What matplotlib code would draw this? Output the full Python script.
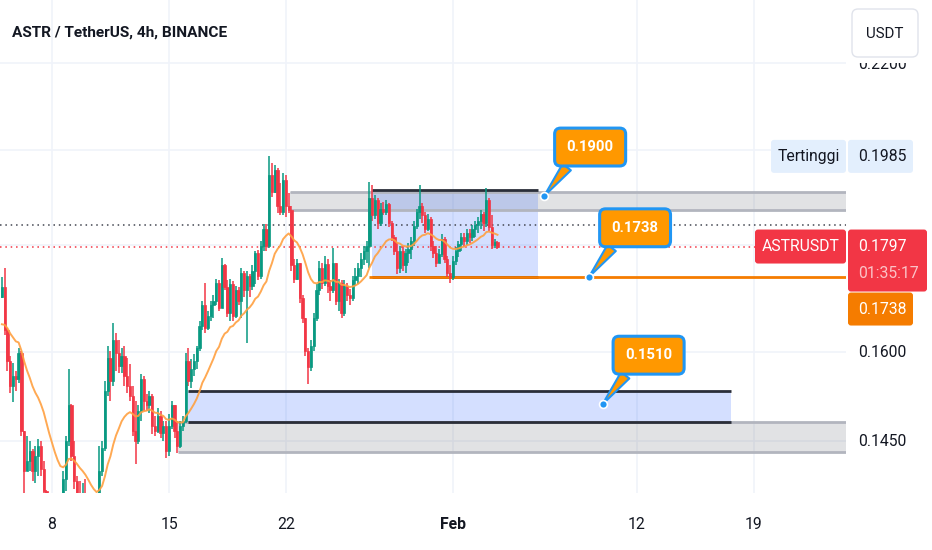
import numpy as np
import matplotlib
matplotlib.use('Agg')
import matplotlib.pyplot as plt
from matplotlib import font_manager as fm
from matplotlib.patches import Rectangle, FancyBboxPatch
from matplotlib.ticker import NullLocator

# ---- data (ASTR/USDT, 4h candles from Jan 5 00:00) ----
start_day = 5.0          # day of year of first candle (Jan 5)
bar_days = 1 / 6         # 4h
first_open = 0.1699
closes = [
    0.1718, 0.1638, 0.1584, 0.1541, 0.1558, 0.1553, 0.1598, 0.1466, 0.1403, 0.1418,
    0.1434, 0.1403, 0.1426, 0.1442, 0.1406, 0.1372, 0.1313, 0.1298, 0.1305, 0.1291,
    0.1301, 0.1320, 0.1390, 0.1450, 0.1508, 0.1426, 0.1387, 0.1365, 0.1350, 0.1357,
    0.1342, 0.1320, 0.1305, 0.1313, 0.1327, 0.1403, 0.1439, 0.1532, 0.1589, 0.1549,
    0.1620, 0.1598, 0.1575, 0.1593, 0.1558, 0.1541, 0.1524, 0.1466, 0.1450, 0.1499,
    0.1553, 0.1516, 0.1508, 0.1524, 0.1474, 0.1466, 0.1491, 0.1463, 0.1474, 0.1434,
    0.1474, 0.1508, 0.1466, 0.1442, 0.1474, 0.1482, 0.1584, 0.1549, 0.1570, 0.1584,
    0.1606, 0.1647, 0.1684, 0.1642, 0.1665, 0.1684, 0.1693, 0.1727, 0.1680, 0.1760,
    0.1718, 0.1669, 0.1725, 0.1665, 0.1712, 0.1693, 0.1746, 0.1712, 0.1740, 0.1721,
    0.1750, 0.1785, 0.1740, 0.1799, 0.1833, 0.1799, 0.1944, 0.1908, 0.1955, 0.1880,
    0.1866, 0.1933, 0.1880, 0.1870, 0.1760, 0.1734, 0.1765, 0.1697, 0.1660, 0.1602,
    0.1574, 0.1611, 0.1660, 0.1712, 0.1754, 0.1727, 0.1763, 0.1721, 0.1712, 0.1765,
    0.1693, 0.1727, 0.1670, 0.1721, 0.1703, 0.1697, 0.1731, 0.1740, 0.1754, 0.1773,
    0.1789, 0.1799, 0.1895, 0.1860, 0.1891, 0.1845, 0.1874, 0.1866, 0.1883, 0.1845,
    0.1817, 0.1789, 0.1754, 0.1789, 0.1760, 0.1785, 0.1793, 0.1809, 0.1839, 0.1866,
    0.1880, 0.1860, 0.1833, 0.1853, 0.1799, 0.1785, 0.1765, 0.1783, 0.1813, 0.1773,
    0.1746, 0.1738, 0.1769, 0.1789, 0.1803, 0.1817, 0.1809, 0.1825, 0.1817, 0.1833,
    0.1841, 0.1849, 0.1862, 0.1845, 0.1891, 0.1837, 0.1801, 0.1807, 0.1797,
]
highs = [
    0.1737, 0.1754, 0.1643, 0.1593, 0.1581, 0.1567, 0.1607, 0.1602, 0.1466, 0.1458,
    0.1450, 0.1437, 0.1442, 0.1453, 0.1450, 0.1418, 0.1374, 0.1315, 0.1313, 0.1310,
    0.1305, 0.1335, 0.1403, 0.1458, 0.1570, 0.1511, 0.1450, 0.1395, 0.1387, 0.1384,
    0.1390, 0.1350, 0.1327, 0.1320, 0.1339, 0.1442, 0.1450, 0.1549, 0.1611, 0.1602,
    0.1651, 0.1633, 0.1620, 0.1606, 0.1611, 0.1589, 0.1579, 0.1541, 0.1516, 0.1508,
    0.1562, 0.1558, 0.1527, 0.1532, 0.1527, 0.1491, 0.1504, 0.1499, 0.1482, 0.1482,
    0.1494, 0.1516, 0.1508, 0.1482, 0.1482, 0.1491, 0.1598, 0.1607, 0.1588, 0.1596,
    0.1611, 0.1656, 0.1693, 0.1727, 0.1674, 0.1693, 0.1703, 0.1734, 0.1731, 0.1775,
    0.1763, 0.1731, 0.1734, 0.1730, 0.1721, 0.1718, 0.1754, 0.1750, 0.1750, 0.1744,
    0.1760, 0.1789, 0.1790, 0.1809, 0.1843, 0.1843, 0.1985, 0.1970, 0.1966, 0.1959,
    0.1927, 0.1948, 0.1944, 0.1906, 0.1880, 0.1773, 0.1773, 0.1765, 0.1703, 0.1660,
    0.1606, 0.1620, 0.1670, 0.1725, 0.1769, 0.1765, 0.1779, 0.1773, 0.1731, 0.1795,
    0.1765, 0.1734, 0.1731, 0.1731, 0.1727, 0.1715, 0.1740, 0.1754, 0.1765, 0.1785,
    0.1799, 0.1809, 0.1929, 0.1923, 0.1902, 0.1895, 0.1885, 0.1887, 0.1891, 0.1885,
    0.1849, 0.1821, 0.1805, 0.1799, 0.1799, 0.1793, 0.1805, 0.1817, 0.1849, 0.1874,
    0.1923, 0.1885, 0.1866, 0.1862, 0.1857, 0.1809, 0.1799, 0.1793, 0.1823, 0.1817,
    0.1779, 0.1760, 0.1779, 0.1797, 0.1809, 0.1825, 0.1825, 0.1833, 0.1833, 0.1841,
    0.1849, 0.1857, 0.1870, 0.1866, 0.1916, 0.1895, 0.1860, 0.1813, 0.1809,
]
lows = [
    0.1697, 0.1629, 0.1567, 0.1529, 0.1513, 0.1532, 0.1546, 0.1458, 0.1368, 0.1403,
    0.1403, 0.1387, 0.1384, 0.1395, 0.1395, 0.1365, 0.1298, 0.1287, 0.1291, 0.1281,
    0.1287, 0.1298, 0.1313, 0.1372, 0.1442, 0.1418, 0.1375, 0.1350, 0.1339, 0.1342,
    0.1335, 0.1313, 0.1291, 0.1298, 0.1310, 0.1320, 0.1395, 0.1434, 0.1524, 0.1516,
    0.1541, 0.1567, 0.1563, 0.1563, 0.1541, 0.1529, 0.1516, 0.1458, 0.1413, 0.1445,
    0.1482, 0.1499, 0.1499, 0.1496, 0.1461, 0.1458, 0.1463, 0.1455, 0.1450, 0.1423,
    0.1426, 0.1469, 0.1455, 0.1431, 0.1439, 0.1466, 0.1479, 0.1541, 0.1537, 0.1558,
    0.1570, 0.1602, 0.1638, 0.1634, 0.1638, 0.1656, 0.1661, 0.1684, 0.1674, 0.1680,
    0.1712, 0.1663, 0.1656, 0.1656, 0.1660, 0.1684, 0.1661, 0.1699, 0.1615, 0.1699,
    0.1712, 0.1725, 0.1731, 0.1734, 0.1789, 0.1789, 0.1795, 0.1899, 0.1906, 0.1864,
    0.1860, 0.1860, 0.1856, 0.1864, 0.1750, 0.1727, 0.1731, 0.1689, 0.1652, 0.1593,
    0.1544, 0.1567, 0.1602, 0.1656, 0.1703, 0.1715, 0.1721, 0.1708, 0.1693, 0.1708,
    0.1684, 0.1674, 0.1661, 0.1665, 0.1693, 0.1684, 0.1693, 0.1721, 0.1725, 0.1738,
    0.1760, 0.1765, 0.1754, 0.1849, 0.1853, 0.1833, 0.1839, 0.1860, 0.1860, 0.1837,
    0.1809, 0.1781, 0.1744, 0.1746, 0.1750, 0.1746, 0.1765, 0.1773, 0.1799, 0.1833,
    0.1853, 0.1845, 0.1825, 0.1829, 0.1789, 0.1775, 0.1757, 0.1765, 0.1777, 0.1765,
    0.1738, 0.1727, 0.1731, 0.1761, 0.1777, 0.1789, 0.1797, 0.1801, 0.1805, 0.1809,
    0.1817, 0.1825, 0.1833, 0.1829, 0.1837, 0.1829, 0.1793, 0.1795, 0.1793,
]
ema_len = 20
ema_start = 0.1642       # EMA value where the line enters at the left edge

tick_days = [8, 15, 22, 32, 43, 50]
tick_labels = ['8', '15', '22', 'Feb', '12', '19']
grid_prices = [0.22, 0.20, 0.18, 0.16, 0.145]
axis_prices = [0.22, 0.16, 0.145]
axis_texts = ['0.2200', '0.1600', '0.1450']
last_price = 0.1797
high_price = 0.1985
level_price = 0.1738
dotted_price = 0.1841
countdown = '01:35:17'

# drawings: (day_from, day_to, low, high)
upper_band = (22.24, 0.1870, 0.1909)
upper_box = (27.13, 37.10, 0.1738, 0.1912)
lower_box = (16.16, 48.67, 0.1481, 0.1532)
lower_band = (15.56, 0.1432, 0.1481)
level_from = 26.97
callout_days = [37.46, 40.15, 40.96]
callout_prices = [0.1900, 0.1738, 0.1510]
callout_texts = ['0.1900', '0.1738', '0.1510']

# ---- style ----
W, H = 932, 550
UP, DOWN = '#089981', '#f23645'
TXT = '#131722'
GRID = '#f0f3fa'
ORANGE = '#f57c00'

names = {f.name for f in fm.fontManager.ttflist}
if 'Liberation Sans Narrow' in names:
    FONT, k = 'Liberation Sans Narrow', 1.0
else:
    FONT, k = 'Roboto', 0.84
plt.rcParams['font.family'] = [FONT, 'DejaVu Sans']

fig = plt.figure(figsize=(W / 100, H / 100), dpi=100)
fig.patch.set_facecolor('white')
ax = fig.add_axes([0, 57 / H, 846 / W, 493 / H])
ax.set_yscale('log')
ax.set_xlim(4.887, 55.53)
ax.set_ylim(0.1369, 0.2359)
for s in ax.spines.values():
    s.set_visible(False)
ax.yaxis.set_major_locator(NullLocator())
ax.yaxis.set_minor_locator(NullLocator())
ax.set_xticks(tick_days, tick_labels)
ax.tick_params(axis='x', length=0, pad=17, labelsize=13.5 * k, labelcolor=TXT)
for lab in ax.get_xticklabels():
    if lab.get_text() == 'Feb':
        lab.set_fontweight('bold')

# grid
for p in grid_prices:
    ax.axhline(p, color=GRID, lw=1.2, zorder=0)
for d in tick_days:
    ax.axvline(d, color=GRID, lw=1.2, zorder=0)

xfar = 60
# gray bands
for x0, lo, hi in [upper_band, lower_band]:
    ax.add_patch(Rectangle((x0, lo), xfar - x0, hi - lo, fc='#787b86', alpha=0.22,
                           ec='none', zorder=1))
    ax.hlines([lo, hi], x0, xfar, color='#b2b5be', lw=2, zorder=1.5)
# blue boxes
for x0, x1, lo, hi in [upper_box, lower_box]:
    ax.add_patch(Rectangle((x0, lo), x1 - x0, hi - lo, fc='#2962ff', alpha=0.2,
                           ec='none', zorder=1.2))
    ax.hlines([lo, hi], x0, x1, color='#2a2e39', lw=2, zorder=1.6)
ax.hlines(level_price, level_from, xfar, color=ORANGE, lw=2, zorder=1.7)

# price lines
ax.axhline(dotted_price, color='#434651', lw=1.1, ls=(0, (1, 2.5)), zorder=2)
ax.axhline(last_price, color=DOWN, lw=1.1, ls=(0, (1, 2.5)), zorder=2)

# candles
c = np.array(closes)
h = np.array(highs)
l = np.array(lows)
o = np.r_[first_open, c[:-1]]
days = start_day + np.arange(len(c)) * bar_days
cols = np.where(c >= o, UP, DOWN)
ax.vlines(days, l, h, colors=cols, lw=1.1, zorder=3)
ax.bar(days, np.abs(c - o), bottom=np.minimum(o, c), width=0.135, color=cols,
       edgecolor=cols, lw=0.5, zorder=3.1)

# EMA
a = 2 / (ema_len + 1)
ema = []
e = ema_start
for v in c:
    e += a * (v - e)
    ema.append(e)
ax.plot(days, ema, color='#ffa040', lw=1.4, alpha=0.9, zorder=4)

# callouts
for d, p, t in zip(callout_days, callout_prices, callout_texts):
    ax.annotate(t, xy=(d, p), xytext=(46, 49), textcoords='offset pixels',
                ha='center', va='center', fontsize=12.8 * k, fontweight='bold', color='white',
                bbox=dict(boxstyle='round,pad=0.8,rounding_size=0.4', fc='#ff9800',
                          ec='#2196f3', lw=2.2),
                arrowprops=dict(arrowstyle='wedge,tail_width=0.7', fc='#ff9800', ec='#2196f3',
                                lw=1.5, relpos=(0.22, 0.0), shrinkA=0, shrinkB=0),
                zorder=7)
    ax.scatter([d], [p], s=32, c='#2196f3', edgecolors='white', linewidths=1.2, zorder=8)

# ---- overlay in pixel coords for the price scale and title ----
ov = fig.add_axes([0, 0, 1, 1])
ov.set_xlim(0, W)
ov.set_ylim(H, 0)
ov.axis('off')
ov.patch.set_alpha(0)
ov.set_zorder(5)


def py(price):
    return H - ax.transData.transform((ax.get_xlim()[0], price))[1]


fs = 13.5 * k
for p, t in zip(axis_prices, axis_texts):
    ov.text(858, py(p) + 1, t, ha='left', va='center', fontsize=fs, color=TXT, zorder=2)


def box(x0, y0, w, hh, fc, ec='none', lw=0, r=3):
    ov.add_patch(FancyBboxPatch((x0, y0), w, hh, boxstyle=f'round,pad=0,rounding_size={r}',
                                fc=fc, ec=ec, lw=lw, zorder=3))


# cover the top of the scale and the currency button
ov.add_patch(Rectangle((848, 0), W - 848, 63, fc='white', ec='none', zorder=2.5))
box(852, 9, 66, 48, 'white', ec='#e0e3eb', lw=1, r=6)
ov.text(885, 34, 'USDT', ha='center', va='center', fontsize=13 * k, color=TXT, zorder=4)

# highest price label
yh = py(high_price)
box(771, yh - 16.5, 75, 33, '#e3effd')
box(848, yh - 16.5, 65, 33, '#e3effd')
ov.text(808.5, yh, 'Tertinggi', ha='center', va='center', fontsize=fs, color=TXT, zorder=4)
ov.text(858, yh, f'{high_price:.4f}', ha='left', va='center', fontsize=fs, color=TXT, zorder=4)

# last price label
yl = py(last_price)
box(755, yl - 17, 91, 34, DOWN)
box(848, yl - 17, 79, 62, DOWN)
ov.text(800.5, yl, 'ASTRUSDT', ha='center', va='center', fontsize=fs, color='white', zorder=4)
ov.text(858, yl, f'{last_price:.4f}', ha='left', va='center', fontsize=fs, color='white', zorder=4)
ov.text(858, yl + 27, countdown, ha='left', va='center', fontsize=fs, color='white',
        alpha=0.7, zorder=4)

# horizontal level label (pushed below the last price label)
box(848, yl + 46, 65, 33, ORANGE)
ov.text(858, yl + 62.5, f'{level_price:.4f}', ha='left', va='center', fontsize=fs,
        color='white', zorder=4)

# title
ov.text(12, 33, 'ASTR / TetherUS, 4h, BINANCE', ha='left', va='center', fontsize=13.5 * 0.82,
        fontweight='bold', color=TXT)

fig.savefig('out.png', dpi=100)
